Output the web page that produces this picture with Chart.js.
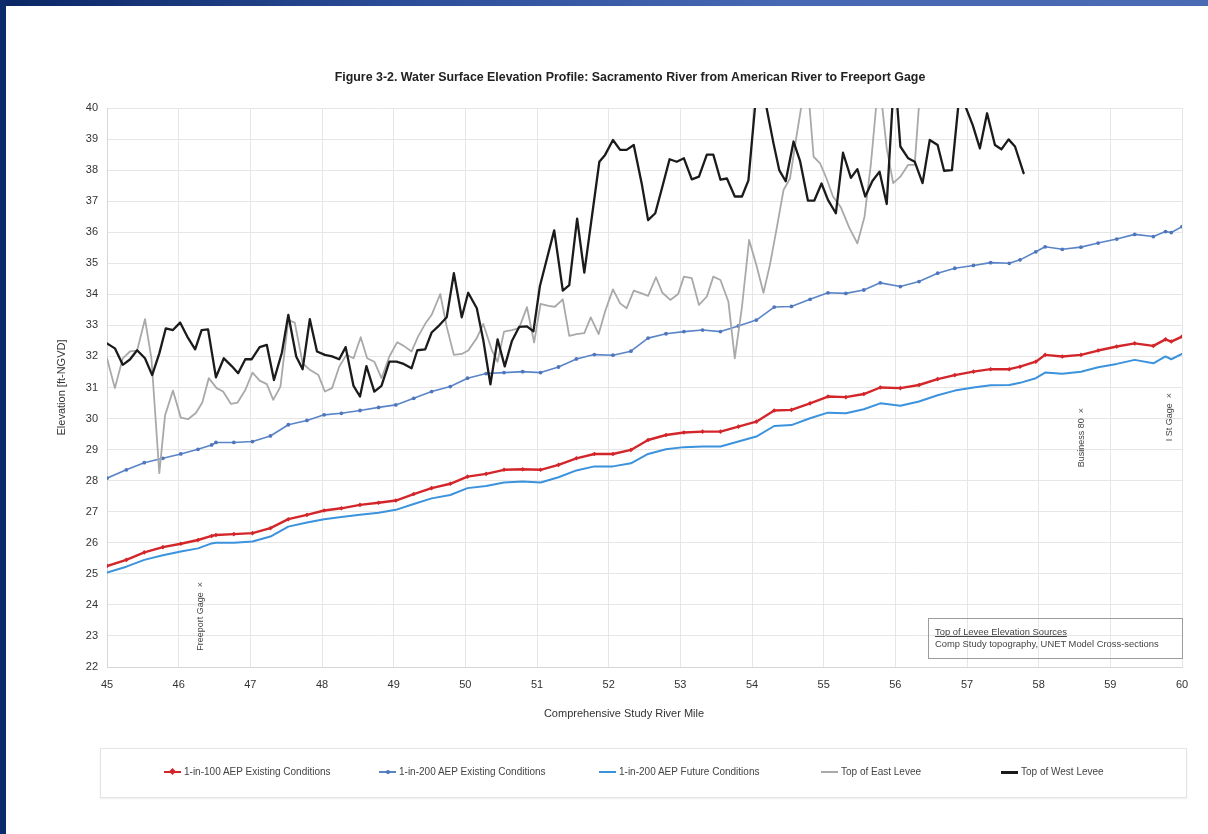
<!DOCTYPE html>
<html><head><meta charset="utf-8">
<script src="https://cdn.jsdelivr.net/npm/chart.js@4.4.1/dist/chart.umd.min.js"></script>
<style>
html,body{margin:0;padding:0;background:#fff;width:1208px;height:834px;overflow:hidden;font-family:"Liberation Sans",Arial,sans-serif;}
#wrap{position:absolute;left:0;top:0;width:1208px;height:834px;}
#topbar{position:absolute;left:0;top:0;width:1208px;height:6px;background:linear-gradient(90deg,#0a2664 0%,#2d4f9a 35%,#4768b2 65%,#4a6bb3 100%);}
#leftbar{position:absolute;left:0;top:0;width:6px;height:834px;background:#0b2b6d;}
#title{position:absolute;left:0;width:1260px;top:70px;text-align:center;font-weight:bold;font-size:12.4px;color:#222;}
#xtitle{position:absolute;left:424px;width:400px;top:707px;text-align:center;font-size:11px;color:#333;}
#legend{position:absolute;left:100px;top:748px;width:1085px;height:48px;border:1px solid #e4e4e4;box-shadow:0 1px 2px #eee;}
.li{position:absolute;top:16px;height:14px;font-size:10px;color:#444;white-space:nowrap;line-height:14px;}
.sw{position:absolute;left:0;top:6px;width:17px;height:2px;}
.mk{position:absolute;left:6px;top:4px;width:5px;height:5px;transform:rotate(45deg);}
.lt{position:absolute;left:20px;top:0;}
#info{position:absolute;left:928px;top:618px;width:253px;height:39px;border:1px solid #9c9c9c;font-size:9.4px;color:#444;}
#info div{position:absolute;left:6px;white-space:nowrap;}
</style></head><body>
<div id="wrap"><canvas id="c" width="1208" height="834"></canvas></div>
<div id="topbar"></div><div id="leftbar"></div>
<div id="title">Figure 3-2. Water Surface Elevation Profile: Sacramento River from American River to Freeport Gage</div>
<div id="xtitle">Comprehensive Study River Mile</div>
<div id="legend"></div>
<div id="info"><div style="top:7px;text-decoration:underline;">Top of Levee Elevation Sources</div><div style="top:19px;">Comp Study topography, UNET Model Cross-sections</div></div>
<script>
// ---- data ----
const xTickValues = [45,46,47,48,49,50,51,52,53,54,55,56,57,58,59,60];
const yTickValues = [22,23,24,25,26,27,28,29,30,31,32,33,34,35,36,37,38,39,40];
const seriesNames = ['1-in-100 AEP  Existing Conditions','1-in-200 AEP  Existing Conditions','1-in-200 AEP  Future Conditions','Top of East Levee','Top of West Levee'];

const profileMiles = [45.0,45.27,45.52,45.78,46.03,46.27,46.46,46.52,46.77,47.03,47.28,47.53,47.79,48.03,48.27,48.53,48.79,49.03,49.28,49.53,49.79,50.03,50.29,50.54,50.8,51.05,51.3,51.55,51.8,52.06,52.31,52.55,52.8,53.05,53.31,53.56,53.81,54.06,54.31,54.55,54.81,55.06,55.31,55.56,55.79,56.07,56.33,56.59,56.83,57.09,57.33,57.59,57.74,57.96,58.09,58.33,58.59,58.83,59.09,59.34,59.6,59.77,59.85,60.0];
const red100Existing = [25.25,25.45,25.69,25.86,25.97,26.09,26.22,26.25,26.28,26.31,26.47,26.76,26.9,27.04,27.11,27.22,27.29,27.36,27.57,27.76,27.9,28.13,28.22,28.35,28.37,28.35,28.51,28.72,28.86,28.86,28.99,29.31,29.47,29.55,29.58,29.58,29.74,29.9,30.26,30.28,30.49,30.71,30.69,30.79,31.0,30.98,31.08,31.27,31.4,31.51,31.59,31.59,31.67,31.83,32.05,32.0,32.05,32.19,32.32,32.42,32.34,32.55,32.48,32.64];
const blue200Existing = [28.08,28.35,28.58,28.72,28.86,29.01,29.15,29.23,29.23,29.26,29.44,29.8,29.94,30.12,30.17,30.26,30.36,30.44,30.65,30.87,31.03,31.3,31.45,31.48,31.51,31.48,31.66,31.92,32.06,32.04,32.17,32.59,32.73,32.8,32.85,32.8,32.98,33.17,33.59,33.61,33.84,34.05,34.03,34.14,34.37,34.25,34.41,34.68,34.84,34.93,35.02,35.0,35.11,35.37,35.53,35.45,35.52,35.65,35.78,35.93,35.86,36.02,35.99,36.18];
const blue200Future = [25.04,25.23,25.45,25.6,25.72,25.82,25.98,26.0,26.0,26.04,26.2,26.52,26.65,26.76,26.83,26.9,26.97,27.06,27.25,27.43,27.54,27.76,27.83,27.94,27.97,27.94,28.11,28.33,28.46,28.46,28.56,28.86,29.01,29.08,29.1,29.1,29.26,29.42,29.76,29.79,30.01,30.19,30.17,30.3,30.49,30.41,30.55,30.75,30.9,31.0,31.07,31.08,31.15,31.3,31.48,31.44,31.51,31.65,31.76,31.89,31.78,32.0,31.91,32.08];

const eastMiles = [45.0,45.11,45.22,45.32,45.42,45.53,45.62,45.73,45.81,45.92,46.03,46.13,46.24,46.33,46.42,46.53,46.62,46.73,46.82,46.93,47.03,47.13,47.23,47.32,47.42,47.53,47.62,47.73,47.83,47.95,48.04,48.14,48.24,48.34,48.44,48.54,48.63,48.73,48.83,48.94,49.05,49.14,49.25,49.34,49.44,49.53,49.65,49.74,49.84,49.95,50.04,50.16,50.25,50.37,50.45,50.54,50.65,50.75,50.86,50.96,51.05,51.16,51.25,51.36,51.45,51.55,51.66,51.75,51.86,51.95,52.06,52.16,52.25,52.35,52.46,52.55,52.66,52.75,52.86,52.97,53.05,53.16,53.26,53.37,53.46,53.56,53.67,53.76,53.86,53.96,54.06,54.16,54.25,54.34,54.44,54.53,54.62,54.72,54.79,54.86,54.95,55.04,55.13,55.24,55.36,55.47,55.57,55.66,55.75,55.8,55.88,55.97,56.07,56.18,56.27,56.34];
const eastElev = [31.94,30.98,31.94,32.16,32.19,33.2,31.94,28.24,30.1,30.9,30.03,29.98,30.18,30.52,31.3,30.98,30.87,30.47,30.51,30.92,31.48,31.22,31.11,30.6,31.03,33.17,33.09,31.78,31.57,31.4,30.87,30.98,31.67,32.05,31.94,32.62,31.94,31.83,31.3,32.0,32.46,32.34,32.16,32.64,33.05,33.34,34.01,32.96,32.05,32.08,32.19,32.59,33.05,32.2,31.83,32.8,32.85,32.91,33.59,32.45,33.69,33.63,33.6,33.84,32.66,32.72,32.75,33.26,32.72,33.45,34.16,33.71,33.55,34.12,34.03,33.95,34.55,34.05,33.82,34.01,34.57,34.52,33.66,33.93,34.57,34.46,33.77,31.94,33.6,35.75,34.95,34.05,34.95,36.07,37.36,37.73,39.08,40.5,40.4,38.43,38.22,37.73,37.15,36.8,36.13,35.64,36.5,38.22,40.5,40.4,38.7,37.58,37.79,38.17,38.17,40.4];

const westMiles = [45.0,45.11,45.22,45.32,45.42,45.53,45.63,45.73,45.82,45.92,46.02,46.12,46.23,46.32,46.41,46.52,46.63,46.74,46.83,46.93,47.02,47.13,47.23,47.33,47.44,47.53,47.64,47.73,47.83,47.93,48.04,48.14,48.24,48.33,48.44,48.53,48.62,48.73,48.83,48.94,49.04,49.14,49.25,49.33,49.44,49.53,49.64,49.74,49.84,49.95,50.04,50.16,50.25,50.35,50.45,50.55,50.65,50.75,50.86,50.95,51.04,51.14,51.24,51.36,51.45,51.56,51.66,51.87,51.95,52.06,52.16,52.25,52.35,52.46,52.55,52.65,52.75,52.85,52.95,53.05,53.16,53.26,53.37,53.46,53.56,53.65,53.76,53.86,53.95,54.06,54.17,54.3,54.38,54.47,54.58,54.67,54.78,54.87,54.97,55.06,55.17,55.27,55.38,55.47,55.58,55.68,55.78,55.88,55.97,56.02,56.07,56.18,56.27,56.38,56.48,56.59,56.68,56.79,56.88,56.97,57.08,57.18,57.28,57.39,57.48,57.58,57.67,57.79];
const westElev = [32.42,32.26,31.73,31.9,32.2,31.94,31.4,32.1,32.9,32.85,33.09,32.64,32.23,32.85,32.87,31.33,31.94,31.69,31.46,31.91,31.91,32.3,32.37,31.24,32.12,33.34,32.0,31.59,33.2,32.16,32.05,32.0,31.91,32.3,31.05,30.71,31.69,30.87,31.05,31.83,31.83,31.76,31.62,32.2,32.23,32.77,33.01,33.26,34.68,33.26,34.05,33.55,32.53,31.1,32.55,31.68,32.5,32.95,32.97,32.81,34.26,35.16,36.06,34.12,34.3,36.44,34.7,38.27,38.49,38.97,38.65,38.65,38.81,37.58,36.39,36.61,37.47,38.35,38.27,38.38,37.7,37.79,38.5,38.5,37.69,37.73,37.15,37.15,37.67,40.5,40.4,38.86,38.0,37.64,38.92,38.3,37.02,37.02,37.57,37.04,36.61,38.56,37.75,38.03,37.15,37.65,37.95,36.91,40.5,40.3,38.76,38.38,38.27,37.58,38.97,38.81,37.98,38.0,40.1,40.1,39.45,38.7,39.83,38.81,38.67,38.99,38.76,37.9];

const gageMiles = [46.3, 58.6, 59.83];
const gageTopElev = [24.74, 30.34, 30.82];
const gageNames = ['Freeport Gage', 'Business 80', 'I St Gage'];

// ---- build ----
const xy = (xs, ys) => xs.map((x, i) => ({x: x, y: ys[i]}));
const colors = ['#d3262b', '#5a84c8', '#3b92dd', '#a9a9a9', '#1b1b1b'];

const gagePlugin = {
  id: 'gages',
  afterDatasetsDraw(chart) {
    const c = chart.ctx, xs = chart.scales.x, ys = chart.scales.y;
    c.save();
    c.font = '9px "Liberation Sans", Arial, sans-serif';
    c.fillStyle = '#444';
    c.textAlign = 'right';
    c.textBaseline = 'middle';
    gageNames.forEach((n, i) => {
      c.save();
      c.translate(xs.getPixelForValue(gageMiles[i]), ys.getPixelForValue(gageTopElev[i]));
      c.rotate(-Math.PI / 2);
      c.fillText(n + '  \u00d7', 0, 0);
      c.restore();
    });
    c.restore();
  }
};

new Chart(document.getElementById('c'), {
  type: 'line',
  data: {
    datasets: [
      {label: seriesNames[0], data: xy(profileMiles, red100Existing), borderColor: colors[0], backgroundColor: colors[0], borderWidth: 2.4, pointStyle: 'rectRot', pointRadius: 2.3, pointBorderWidth: 0, order: 3},
      {label: seriesNames[1], data: xy(profileMiles, blue200Existing), borderColor: colors[1], backgroundColor: '#4f76bd', borderWidth: 1.6, pointStyle: 'circle', pointRadius: 1.9, pointBorderWidth: 0, order: 4},
      {label: seriesNames[2], data: xy(profileMiles, blue200Future), borderColor: colors[2], backgroundColor: colors[2], borderWidth: 2, pointRadius: 0, order: 5},
      {label: seriesNames[3], data: xy(eastMiles, eastElev), borderColor: colors[3], backgroundColor: colors[3], borderWidth: 1.8, pointRadius: 0, order: 2},
      {label: seriesNames[4], data: xy(westMiles, westElev), borderColor: colors[4], backgroundColor: colors[4], borderWidth: 2.3, pointRadius: 0, order: 1}
    ]
  },
  options: {
    responsive: false,
    animation: false,
    events: [],
    layout: {padding: {left: 48, right: 26, top: 108, bottom: 137}},
    elements: {line: {tension: 0, borderJoinStyle: 'round', borderCapStyle: 'round'}},
    plugins: {legend: {display: false}, tooltip: {enabled: false}, title: {display: false}},
    scales: {
      x: {
        type: 'linear', min: 45, max: 60,
        afterBuildTicks: s => { s.ticks = xTickValues.map(v => ({value: v})); },
        afterFit: s => { s.height = 30; },
        grid: {color: '#e6e6e6', drawTicks: false},
        border: {color: '#d6d6d6'},
        ticks: {padding: 11, color: '#333', font: {family: '"Liberation Sans", Arial, sans-serif', size: 11}, maxRotation: 0}
      },
      y: {
        type: 'linear', min: 22, max: 40,
        afterBuildTicks: s => { s.ticks = yTickValues.map(v => ({value: v})); },
        afterFit: s => { s.width = 59; },
        grid: {color: '#e6e6e6', drawTicks: false},
        border: {color: '#d6d6d6'},
        ticks: {padding: 9, color: '#333', font: {family: '"Liberation Sans", Arial, sans-serif', size: 11}},
        title: {display: true, text: 'Elevation [ft-NGVD]', color: '#333', font: {family: '"Liberation Sans", Arial, sans-serif', size: 11}, padding: {top: 7, bottom: 0}}
      }
    }
  },
  plugins: [gagePlugin]
});

// ---- HTML legend ----
const legendX = [63, 278, 498, 720, 900];
const lg = document.getElementById('legend');
seriesNames.forEach((n, i) => {
  const d = document.createElement('div');
  d.className = 'li';
  d.style.left = legendX[i] + 'px';
  let h = '<div class="sw" style="background:' + colors[i] + (i === 4 ? ';height:2.5px' : '') + '"></div>';
  if (i === 0) h += '<div class="mk" style="background:' + colors[0] + '"></div>';
  if (i === 1) h += '<div class="mk" style="background:#4f76bd;border-radius:50%;width:4px;height:4px;left:7px;top:5px"></div>';
  h += '<div class="lt">' + n + '</div>';
  d.innerHTML = h;
  lg.appendChild(d);
});
</script>
</body></html>
